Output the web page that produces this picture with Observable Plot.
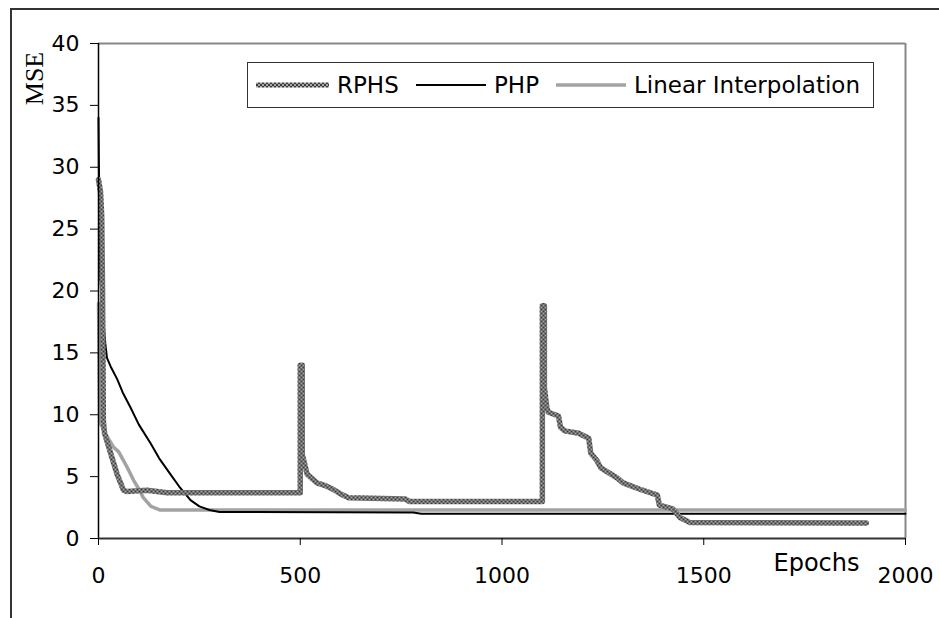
<!DOCTYPE html>
<html>
<head>
<meta charset="utf-8">
<script src="https://cdn.jsdelivr.net/npm/d3@7"></script>
<script src="https://cdn.jsdelivr.net/npm/@observablehq/plot@0.6"></script>
<style>
  html, body { margin: 0; padding: 0; background: #fff; }
  #wrap { position: relative; width: 939px; height: 618px; overflow: hidden; font-family: "DejaVu Sans", sans-serif; }
  #outer { position: absolute; left: 10px; top: 8px; width: 960px; height: 640px; border-top: 2px solid #333; border-left: 2px solid #333; pointer-events: none; }
  #legend { position: absolute; left: 247px; top: 62px; width: 625px; height: 44px; border: 1px solid #333; background: #fff; }
  .lg { position: absolute; top: 22px; transform: translateY(-50%); font-size: 23px; color: #000; white-space: nowrap; line-height: 1; }
  .sw { position: absolute; top: 17px; }
</style>
</head>
<body>
<div id="wrap">
  <div id="outer"></div>
  <div id="chart"></div>
  <div id="legend"></div>
</div>
<script>
// ---- data ----
const xTicks = [0, 500, 1000, 1500, 2000];
const yTicks = [0, 5, 10, 15, 20, 25, 30, 35, 40];
const xDomain = [0, 2000];
const yDomain = [0, 40];
const xLabel = ["Epochs"];
const yLabel = ["MSE"];
const seriesNames = ["RPHS", "PHP", "Linear Interpolation"];

const rphsEpoch = [0, 5, 8, 10, 11, 12, 15, 30, 46, 62, 70, 120, 170, 500, 500, 505, 505, 517, 541, 560, 580, 600, 620, 760, 770, 1100, 1100, 1105, 1105, 1111, 1115, 1140, 1145, 1155, 1190, 1215, 1220, 1235, 1245, 1270, 1285, 1300, 1340, 1385, 1390, 1423, 1441, 1465, 1903];
const rphsMSE   = [29, 28, 26, 20, 15, 9.5, 8.5, 6.9, 5.2, 3.9, 3.8, 3.9, 3.7, 3.7, 14, 14, 6.8, 5.2, 4.5, 4.3, 4.0, 3.6, 3.3, 3.2, 3.0, 3.0, 18.8, 18.8, 12.2, 10.6, 10.2, 9.9, 9.0, 8.7, 8.5, 8.1, 6.9, 6.3, 5.7, 5.2, 4.9, 4.5, 4.0, 3.5, 2.7, 2.4, 1.7, 1.3, 1.25];

const phpEpoch = [0, 1, 2, 3, 4.6, 9, 13, 17, 21, 30, 46, 60, 79, 100, 129, 150, 178, 200, 228, 250, 275, 300, 780, 800, 2000];
const phpMSE   = [34, 30, 28, 25, 21, 19, 17.3, 15.7, 14.6, 13.9, 12.9, 11.8, 10.6, 9.2, 7.7, 6.5, 5.2, 4.2, 3.1, 2.6, 2.3, 2.15, 2.1, 2.0, 2.0];

const linEpoch = [0, 3, 5, 20, 37, 50, 62, 75, 87, 100, 111, 130, 153, 2000];
const linMSE   = [19, 10, 9.3, 8.3, 7.4, 7.0, 6.3, 5.5, 4.7, 4.0, 3.3, 2.6, 2.3, 2.3];

// ---- tables ----
const rphs = rphsEpoch.map((x, i) => ({x, y: rphsMSE[i]}));
const php = phpEpoch.map((x, i) => ({x, y: phpMSE[i]}));
const lin = linEpoch.map((x, i) => ({x, y: linMSE[i]}));

const patternDef = '<pattern id="PID" patternUnits="userSpaceOnUse" width="4" height="4">' +
  '<rect x="0" y="0" width="4" height="4" fill="#a8a8a8"/>' +
  '<rect x="0" y="0" width="2" height="2" fill="#3a3a3a"/>' +
  '<rect x="2" y="2" width="2" height="2" fill="#3a3a3a"/></pattern>';

const chart = Plot.plot({
  width: 939,
  height: 618,
  marginLeft: 98,
  marginTop: 43,
  marginRight: 34,
  marginBottom: 80,
  style: { fontFamily: "DejaVu Sans, sans-serif", fontSize: "22px", background: "transparent", color: "#000" },
  x: { domain: xDomain },
  y: { domain: yDomain },
  marks: [
    Plot.ruleY([yDomain[1]], { stroke: "#888", strokeWidth: 2 }),
    Plot.ruleX([xDomain[1]], { stroke: "#888", strokeWidth: 2 }),
    Plot.line(lin, { x: "x", y: "y", stroke: "#a3a3a3", strokeWidth: 3.5 }),
    Plot.line(php, { x: "x", y: "y", stroke: "#000", strokeWidth: 2 }),
    Plot.line(rphs, { x: "x", y: "y", stroke: "url(#rphsPat)", strokeWidth: 5.5 }),
    Plot.ruleX([xDomain[0]], { stroke: "#000", strokeWidth: 1.5 }),
    Plot.ruleY([yDomain[0]], { stroke: "#333", strokeWidth: 2 }),
    Plot.axisY({ ticks: yTicks, tickSize: 8, tickPadding: 11, label: null, tickFormat: d => String(d) }),
    Plot.axisX({ ticks: xTicks, tickSize: 7, tickPadding: 22, label: null, tickFormat: d => String(d) }),
    Plot.text(xLabel, { frameAnchor: "bottom-right", dx: -46, dy: 25, textAnchor: "end", lineAnchor: "middle", fontSize: 24, text: d => d }),
    Plot.text(yLabel, { frameAnchor: "top-left", dx: -64, dy: 35, textAnchor: "middle", lineAnchor: "middle", rotate: -90, fontSize: 26, fontFamily: "Liberation Serif, serif", text: d => d })
  ]
});
d3.select(chart).insert("defs", ":first-child").html(patternDef.replace("PID", "rphsPat"));
chart.style.position = "absolute";
chart.style.left = "0px";
chart.style.top = "0px";
document.getElementById("chart").appendChild(chart);

// ---- legend ----
const legend = document.getElementById("legend");
const items = [
  { name: seriesNames[0], swLeft: 8, textLeft: 89, draw: '<defs>' + patternDef.replace("PID", "legPat") + '</defs><line x1="0" y1="5" x2="73" y2="5" stroke="url(#legPat)" stroke-width="5"/>' },
  { name: seriesNames[1], swLeft: 168, textLeft: 246, draw: '<line x1="0" y1="5" x2="70" y2="5" stroke="#000" stroke-width="2"/>' },
  { name: seriesNames[2], swLeft: 308, textLeft: 386, draw: '<line x1="0" y1="5" x2="70" y2="5" stroke="#a3a3a3" stroke-width="3.5"/>' }
];
for (const it of items) {
  const sw = document.createElement("div");
  sw.className = "sw";
  sw.style.left = it.swLeft + "px";
  sw.innerHTML = '<svg width="74" height="10" style="display:block">' + it.draw + '</svg>';
  legend.appendChild(sw);
  const t = document.createElement("div");
  t.className = "lg";
  t.style.left = it.textLeft + "px";
  t.textContent = it.name;
  legend.appendChild(t);
}
</script>
</body>
</html>
